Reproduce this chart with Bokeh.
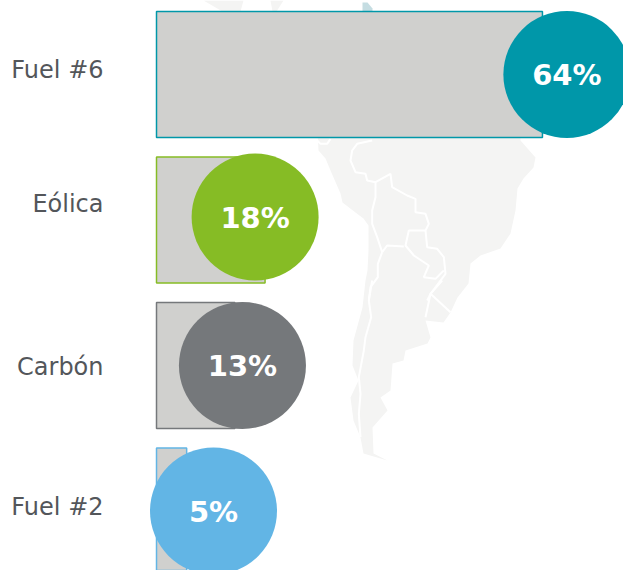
from bokeh.plotting import figure
from bokeh.models import Range1d, ColumnDataSource
from bokeh.core.properties import value
from bokeh.embed import file_html
from bokeh.resources import INLINE

# ---- chart data -------------------------------------------------------
categories = ["Fuel #6", "Eólica", "Carbón", "Fuel #2"]
shares = [64, 18, 13, 5]
share_labels = ["64%", "18%", "13%", "5%"]
rows = [0, 1, 2, 3]
bubble_x = [68.05, 16.35, 14.25, 9.45]
bubble_row = [0.0, 0.98, 2.0, 3.0]
colors = ["#0097A9", "#86BC25", "#75787B", "#62B5E5"]
label_shift = [4, 16, -2, 4]

# ---- decorative map silhouette, in page pixels --------------------------
map_outline = [(317, 130), (318, 150), (325, 158), (330, 170), (340, 193), (342, 202), (355, 212),
               (363, 218), (368, 225), (368, 250), (367, 270), (365, 280), (362, 307), (353, 340),
               (352, 365), (358, 380), (350, 397), (353, 420), (360, 437), (363, 453), (387, 460),
               (373, 453), (372, 427), (387, 410), (380, 397), (390, 390), (392, 363), (403, 360),
               (405, 350), (427, 343), (430, 337), (425, 320), (443, 322), (450, 312), (457, 297),
               (468, 283), (470, 263), (480, 255), (500, 248), (510, 233), (515, 210), (517, 188),
               (523, 178), (533, 167), (535, 157), (520, 140), (520, 130)]
map_top_a = [(203, 0), (243, 0), (240, 11), (222, 11)]
map_top_b = [(270, 0), (283, 0), (276, 11), (272, 11)]
map_top_c = [(362, 2), (367, 2), (372, 8), (372, 11), (362, 11)]

def z4(pts):
    return [(300 + a / 3, 130 + b / 3) for a, b in pts]

def z5(pts):
    return [(330 + a / 3, 280 + b / 3) for a, b in pts]

map_borders = [
    z4([(50, 30), (60, 40), (80, 40), (90, 25)]),
    z4([(215, 30), (170, 40), (155, 60), (150, 90), (165, 125), (195, 130), (200, 150), (225, 155),
        (270, 130), (275, 170), (320, 195), (345, 205), (345, 245), (375, 250), (385, 280), (375, 300),
        (380, 350), (410, 355), (430, 380), (435, 430), (390, 490), (380, 510)]),
    z4([(225, 155), (225, 200), (215, 240), (215, 280), (230, 320), (245, 365)]),
    z4([(245, 365), (260, 345), (310, 348)]),
    z4([(375, 300), (325, 300), (315, 345), (340, 375), (385, 405), (370, 440), (405, 445), (430, 420)]),
    z4([(245, 365), (232, 400), (232, 440), (210, 470), (205, 510)]),
    z5([(125, 0), (115, 60), (122, 110), (105, 170), (100, 210), (85, 290), (90, 340), (85, 400), (90, 470)]),
    z5([(335, 0), (300, 40), (285, 110)]),
    z5([(300, 40), (360, 95)]),
]

# ---- scales -------------------------------------------------------------
W, H = 623, 570
p = figure(width=W, height=H, output_backend="svg", toolbar_location=None,
           x_range=Range1d(-25.87, 77.44), y_range=Range1d(3.409, -0.5086),
           min_border=0, outline_line_color=None, background_fill_color="white")
p.xaxis.visible = False
p.yaxis.visible = False
p.grid.visible = False
p.extra_x_ranges["page_x"] = Range1d(0, 623)
p.extra_y_ranges["page_y"] = Range1d(570, 0)

# ---- map ----------------------------------------------------------------
MAP = "#F4F4F3"
for shape, col in [(map_outline, MAP), (map_top_a, MAP), (map_top_b, MAP), (map_top_c, "#C5DDE2")]:
    p.patch([a for a, _ in shape], [b for _, b in shape], fill_color=col, line_color=None,
            x_range_name="page_x", y_range_name="page_y")
for line in map_borders:
    p.line([a for a, _ in line], [b for _, b in line], line_color="white", line_width=2,
           x_range_name="page_x", y_range_name="page_y")

# ---- bars, bubbles, labels ---------------------------------------------
src = ColumnDataSource(dict(row=rows, share=shares, color=colors, cat=categories, lab=share_labels,
                            bx=bubble_x, by=bubble_row, zero=[0] * 4,
                            lshift=[-s for s in label_shift]))
p.hbar(y="row", left="zero", right="share", height=0.866, source=src,
       fill_color="#D0D0CE", line_color="color", line_width=1.5)
p.scatter(x="bx", y="by", size=127, marker="circle", source=src,
          fill_color="color", line_color=None)
p.text(x="bx", y="by", text="lab", source=src, text_color="white",
       text_font=value("DejaVu Sans"), text_font_style="bold", text_font_size="29px",
       text_align="center", text_baseline="middle", y_offset=1)
p.text(x="zero", y="row", text="cat", source=src, text_color="#53565A",
       text_font=value("DejaVu Sans"), text_font_size="24px",
       text_align="right", text_baseline="middle", x_offset=-53, y_offset="lshift")

open("out.html", "w").write(file_html(p, INLINE))
